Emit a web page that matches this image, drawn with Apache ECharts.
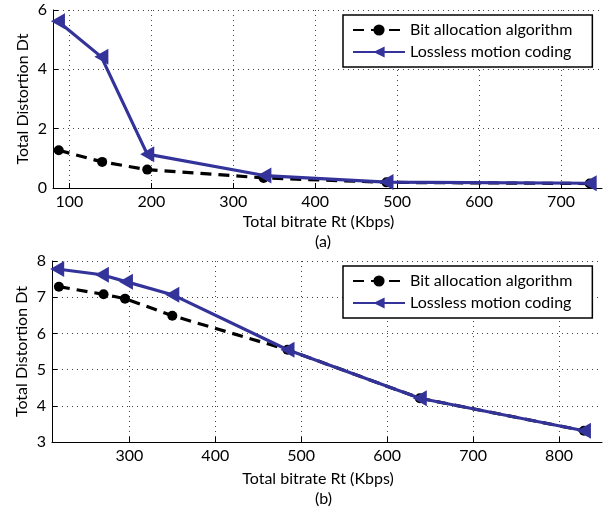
<!DOCTYPE html>
<html>
<head>
<meta charset="utf-8">
<script src="https://cdn.jsdelivr.net/npm/echarts@6/dist/echarts.min.js"></script>
<style>html,body{margin:0;padding:0;background:#fff;}#c{width:607px;height:509px;}</style>
</head>
<body>
<div id="c"></div>
<script>
// Panel (a)
const aBitX = [87, 140, 195, 337, 487, 735];
const aBitY = [1.27, 0.88, 0.62, 0.34, 0.19, 0.15];
const aLossX = [86, 139, 195, 338, 487, 735];
const aLossY = [5.62, 4.42, 1.14, 0.42, 0.2, 0.16];
const aXTicks = [100, 200, 300, 400, 500, 600, 700];
// Panel (b)
const bBitX = [218, 270, 295, 350, 484, 638, 829];
const bBitY = [7.29, 7.08, 6.96, 6.49, 5.55, 4.21, 3.31];
const bLossX = [216, 268, 296, 350, 484, 638, 829];
const bLossY = [7.78, 7.62, 7.43, 7.07, 5.55, 4.21, 3.31];
const bXTicks = [300, 400, 500, 600, 700, 800];
const seriesNames = ['Bit allocation algorithm', 'Lossless motion coding'];
const xTitle = 'Total bitrate Rt (Kbps)';
const yTitle = 'Total Distortion Dt';
const panelLabels = ['(a)', '(b)'];

const FONT = 'Lato';
const FS = 16;
const BLUE = '#33339a';
const zip = (xs, ys) => xs.map((x, i) => [x, ys[i]]);

function xAxis(idx, min, max, ticks, gap) {
  return {
    gridIndex: idx, type: 'value', min: min, max: max,
    name: xTitle, nameLocation: 'middle', nameGap: gap,
    nameTextStyle: {fontFamily: FONT, fontSize: FS, color: '#000', padding: [0, 18, 0, 0]},
    axisLine: {show: true, onZero: false, lineStyle: {color: '#000', width: 1}},
    axisTick: {show: true, inside: true, length: 5, lineStyle: {color: '#000'}, customValues: ticks},
    axisLabel: {fontFamily: FONT, fontSize: FS, color: '#000', margin: 6, customValues: ticks},
    splitLine: {show: true, lineStyle: {color: '#444', type: [1, 4], width: 1}}
  };
}
function yAxis(idx, min, max, interval) {
  return {
    gridIndex: idx, type: 'value', min: min, max: max, interval: interval,
    name: yTitle, nameLocation: 'middle', nameGap: 22, nameMoveOverlap: false,
    nameTextStyle: {fontFamily: FONT, fontSize: FS, color: '#000'},
    axisLine: {show: true, lineStyle: {color: '#000', width: 1}},
    axisTick: {show: true, inside: true, length: 5, lineStyle: {color: '#000'}},
    axisLabel: {fontFamily: FONT, fontSize: FS, color: '#000', margin: 6},
    splitLine: {show: true, lineStyle: {color: '#444', type: [1, 4], width: 1}}
  };
}
function bitSeries(idx, data) {
  return {
    name: seriesNames[0], type: 'line', xAxisIndex: idx, yAxisIndex: idx,
    data: data, symbol: 'circle', symbolSize: 10,
    itemStyle: {color: '#000'},
    lineStyle: {color: '#000', width: 3.2, type: [11, 7]},
    z: 2, animation: false
  };
}
function lossSeries(idx, data) {
  return {
    name: seriesNames[1], type: 'line', xAxisIndex: idx, yAxisIndex: idx,
    data: data, symbol: 'triangle', symbolSize: [16, 14], symbolRotate: 90,
    itemStyle: {color: BLUE},
    lineStyle: {color: BLUE, width: 3.2},
    z: 3, animation: false
  };
}
function legend(top) {
  return {
    data: seriesNames, left: 343, top: top, orient: 'vertical',
    itemGap: 6, itemWidth: 52, itemHeight: 14,
    padding: [7, 20, 7, 9],
    backgroundColor: '#fff', borderColor: '#000', borderWidth: 1.5,
    textStyle: {fontFamily: FONT, fontSize: FS, color: '#000'},
    selectedMode: false
  };
}

const chart = echarts.init(document.getElementById('c'), null, {renderer: 'canvas'});
chart.setOption({
  animation: false,
  backgroundColor: '#fff',
  grid: [
    {left: 53, top: 10, width: 549, height: 178},
    {left: 52, top: 261, width: 550, height: 181}
  ],
  xAxis: [xAxis(0, 80, 750, aXTicks, 26), xAxis(1, 210, 850, bXTicks, 29)],
  yAxis: [yAxis(0, 0, 6, 2), yAxis(1, 3, 8, 1)],
  legend: [legend(15), legend(266)],
  series: [
    bitSeries(0, zip(aBitX, aBitY)),
    lossSeries(0, zip(aLossX, aLossY)),
    bitSeries(1, zip(bBitX, bBitY)),
    lossSeries(1, zip(bLossX, bLossY))
  ],
  graphic: [
    {type: 'text', left: 315, top: 234, style: {text: panelLabels[0], font: FS + 'px ' + FONT, fill: '#000'}},
    {type: 'text', left: 315, top: 491, style: {text: panelLabels[1], font: FS + 'px ' + FONT, fill: '#000'}}
  ]
});
</script>
</body>
</html>
